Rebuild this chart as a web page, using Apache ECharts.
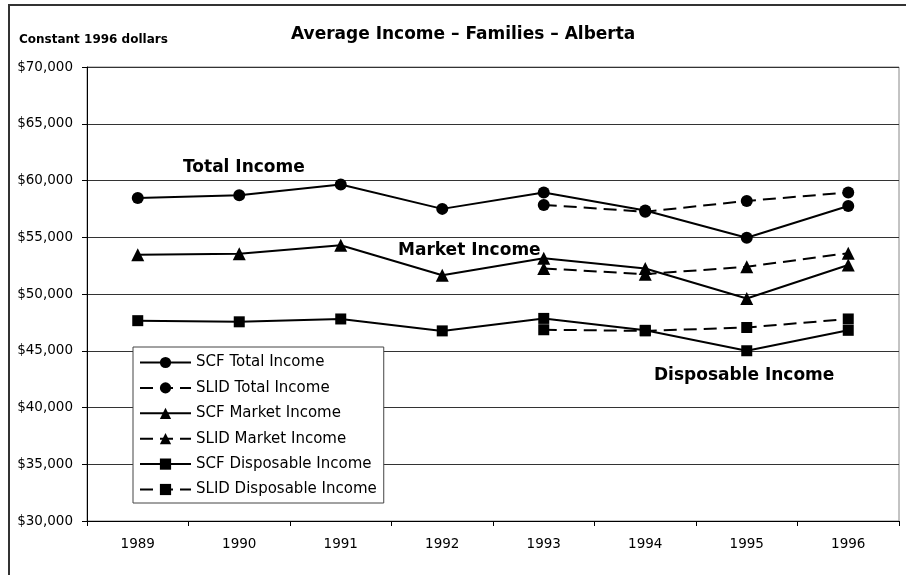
<!DOCTYPE html>
<html>
<head>
<meta charset="utf-8">
<script src="https://cdn.jsdelivr.net/npm/echarts@6/dist/echarts.min.js"></script>
<style>
html,body{margin:0;padding:0;background:#fff;}
#chart{width:906px;height:575px;}
</style>
</head>
<body>
<div id="chart"></div>
<script>
var years = ['1989', '1990', '1991', '1992', '1993', '1994', '1995', '1996'];
var yTicks = [30000, 35000, 40000, 45000, 50000, 55000, 60000, 65000, 70000];
var scfTotal = [58450, 58700, 59650, 57500, 58950, 57350, 54950, 57750];
var slidTotal = [null, null, null, null, 57850, 57250, 58200, 58950];
var scfMarket = [53450, 53550, 54300, 51650, 53150, 52250, 49600, 52550];
var slidMarket = [null, null, null, null, 52250, 51750, 52400, 53600];
var scfDisp = [47650, 47550, 47800, 46750, 47850, 46800, 45000, 46800];
var slidDisp = [null, null, null, null, 46850, 46750, 47050, 47800];
var seriesNames = ['SCF Total Income', 'SLID Total Income', 'SCF Market Income', 'SLID Market Income', 'SCF Disposable Income', 'SLID Disposable Income'];

var FONT = '"DejaVu Sans", "Liberation Sans", Arial, sans-serif';
var DASH = [13, 7];

function money(v) {
  return '$' + String(v).replace(/\B(?=(\d{3})+(?!\d))/g, ',');
}

function mk(name, data, symbol, size, dashed) {
  return {
    name: name,
    type: 'line',
    data: data,
    symbol: symbol,
    symbolSize: size,
    showSymbol: true,
    showAllSymbol: true,
    lineStyle: { color: '#000', width: 2, type: dashed ? DASH : 'solid' },
    itemStyle: { color: '#000', borderWidth: 0 },
    emphasis: { disabled: true },
    animation: false,
    z: dashed ? 3 : 4
  };
}

var chart = echarts.init(document.getElementById('chart'), null, { renderer: 'canvas' });
chart.setOption({
  backgroundColor: '#fff',
  animation: false,
  grid: {
    left: 87, right: 7, top: 67, bottom: 54,
    show: true, borderColor: '#888', borderWidth: 1, backgroundColor: 'transparent'
  },
  xAxis: {
    type: 'category',
    data: years,
    boundaryGap: true,
    axisLine: { show: true, lineStyle: { color: '#000', width: 1 } },
    axisTick: { show: true, length: 5, interval: 0, lineStyle: { color: '#000' } },
    axisLabel: { margin: 16, color: '#000', fontFamily: FONT, fontSize: 13.5, interval: 0 },
    splitLine: { show: false }
  },
  yAxis: {
    type: 'value',
    min: yTicks[0],
    max: yTicks[yTicks.length - 1],
    interval: yTicks[1] - yTicks[0],
    axisLine: { show: true, lineStyle: { color: '#000', width: 1 } },
    axisTick: { show: true, length: 5, lineStyle: { color: '#000' } },
    axisLabel: { margin: 14, color: '#000', fontFamily: FONT, fontSize: 13.5, formatter: money },
    splitLine: { show: true, lineStyle: { color: '#333', width: 1 } }
  },
  legend: {
    orient: 'vertical',
    left: 133,
    top: 347,
    itemWidth: 51,
    itemHeight: 14,
    itemGap: 10.4,
    padding: [8, 7, 6, 6],
    backgroundColor: '#fff',
    borderColor: '#444',
    borderWidth: 1,
    selectedMode: false,
    lineStyle: { width: 2 },
    textStyle: { fontFamily: FONT, fontSize: 15, color: '#000' },
    data: seriesNames
  },
  series: [
    mk(seriesNames[0], scfTotal, 'circle', 12, false),
    mk(seriesNames[1], slidTotal, 'circle', 12, true),
    mk(seriesNames[2], scfMarket, 'triangle', 13, false),
    mk(seriesNames[3], slidMarket, 'triangle', 13, true),
    mk(seriesNames[4], scfDisp, 'rect', 11, false),
    mk(seriesNames[5], slidDisp, 'rect', 11, true)
  ],
  graphic: [
    { type: 'rect', silent: true, z: 100, shape: { x: 9, y: 5, width: 2000, height: 2000 },
      style: { fill: 'none', stroke: '#333', lineWidth: 2 } },
    { type: 'text', silent: true, z: 100,
      style: { text: 'Average Income \u2013 Families \u2013 Alberta', x: 291, y: 35, font: 'bold 17px ' + FONT, fill: '#000', align: 'left', verticalAlign: 'middle', textAlign: 'left', textVerticalAlign: 'middle' } },
    { type: 'text', silent: true, z: 100,
      style: { text: 'Constant 1996 dollars', x: 19, y: 40, font: 'bold 12px ' + FONT, fill: '#000', align: 'left', verticalAlign: 'middle', textAlign: 'left', textVerticalAlign: 'middle' } },
    { type: 'text', silent: true, z: 100,
      style: { text: 'Total Income', x: 183, y: 168, font: 'bold 17px ' + FONT, fill: '#000', align: 'left', verticalAlign: 'middle', textAlign: 'left', textVerticalAlign: 'middle' } },
    { type: 'text', silent: true, z: 100,
      style: { text: 'Market Income', x: 398, y: 250.5, font: 'bold 17px ' + FONT, fill: '#000', align: 'left', verticalAlign: 'middle', textAlign: 'left', textVerticalAlign: 'middle' } },
    { type: 'text', silent: true, z: 100,
      style: { text: 'Disposable Income', x: 654, y: 375.5, font: 'bold 17px ' + FONT, fill: '#000', align: 'left', verticalAlign: 'middle', textAlign: 'left', textVerticalAlign: 'middle' } }
  ]
});
</script>
</body>
</html>
